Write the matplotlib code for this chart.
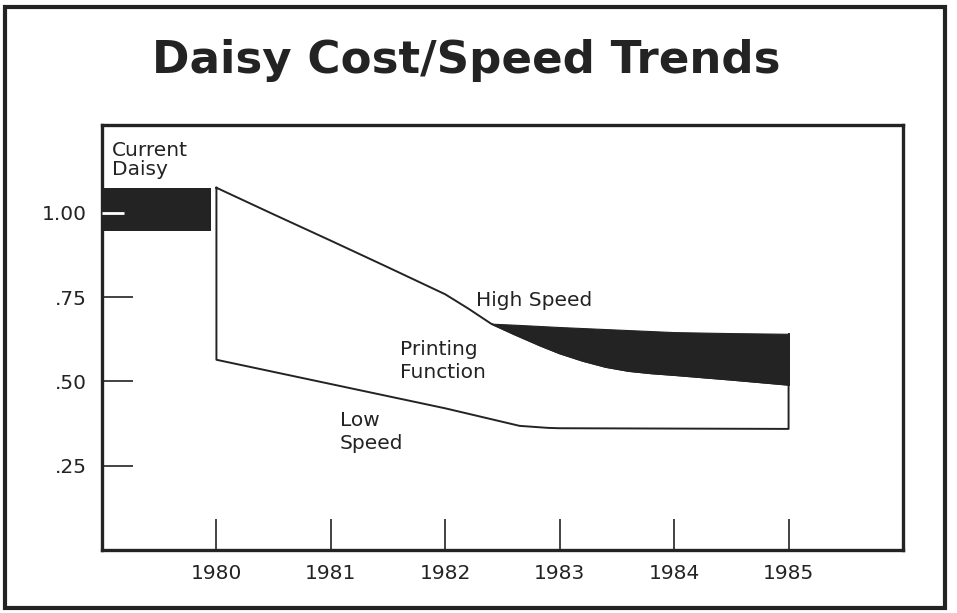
import matplotlib.pyplot as plt
from matplotlib.patches import Rectangle
import numpy as np

plt.rcParams['font.family'] = ['DejaVu Sans']

INK = '#232323'

# Data
years = [1980, 1981, 1982, 1983, 1984, 1985]
ytick_vals = [0.25, 0.50, 0.75, 1.00]
ytick_labels = ['.25', '.50', '.75', '1.00']

current_span = [1979.0, 1979.95]
current_range = [0.947, 1.074]

# upper edge of the printing function (cost falling)
upper_x = [1980.0, 1980.5, 1981.0, 1981.5, 1982.0, 1982.2, 1982.4]
upper_y = [1.074, 0.995, 0.917, 0.838, 0.758, 0.716, 0.671]

# high speed band
high_x = [1982.4, 1982.6, 1982.83, 1983.0, 1983.2, 1983.4, 1983.6,
          1983.8, 1984.0, 1984.5, 1985.0]
high_top = [0.671, 0.668, 0.664, 0.661, 0.658, 0.655, 0.652,
            0.649, 0.646, 0.643, 0.641]
high_bot = [0.671, 0.640, 0.606, 0.583, 0.561, 0.543, 0.531,
            0.524, 0.519, 0.505, 0.490]

# low speed edge
low_x = [1980.0, 1981.0, 1982.0, 1982.4, 1982.65, 1982.9, 1983.0,
         1984.0, 1985.0]
low_y = [0.564, 0.492, 0.420, 0.388, 0.368, 0.362, 0.361, 0.360, 0.359]

fig = plt.figure(figsize=(9.57, 6.13), dpi=100)
fig.patches.append(Rectangle((5 / 957, 5 / 613), 940 / 957, 601 / 613,
                             transform=fig.transFigure, fill=False,
                             edgecolor=INK, linewidth=3))

ax = fig.add_axes([102 / 957, 63 / 613, 801 / 957, 425 / 613])
ax.set_xlim(1979, 1986)
ax.set_ylim(0, 1.26)
ax.set_axisbelow(False)

# current daisy block
ax.fill_between(current_span, current_range[0], current_range[1],
                color=INK, linewidth=0, zorder=2)

# outline of the printing function
outline_x = upper_x + high_x[1:] + [1985.0] + low_x[::-1] + [1980.0]
outline_y = upper_y + high_bot[1:] + [low_y[-1]] + low_y[::-1] + [upper_y[0]]
ax.plot(outline_x, outline_y, color=INK, linewidth=1.4, zorder=3)
ax.plot([1985.0, 1985.0], [high_top[-1], high_bot[-1]], color=INK,
        linewidth=1.4, zorder=3)

# high speed band
ax.fill_between(high_x, high_bot, high_top, color=INK, linewidth=0.8,
                edgecolor=INK, zorder=3)

ax.set_xticks(years)
ax.set_xticklabels([str(y) for y in years])
ax.set_yticks(ytick_vals)
ax.set_yticklabels(ytick_labels)
ax.tick_params(direction='in', length=22, width=1.2, color=INK,
               labelsize=14.5, labelcolor=INK)
ax.tick_params(axis='y', pad=11)
ax.tick_params(axis='x', pad=10)

# the 1.00 tick sits on the black block, so redraw it in white
ax.plot([0, 22 / 801], [ytick_vals[-1], ytick_vals[-1]],
        transform=ax.get_yaxis_transform(), color='white',
        linewidth=2, solid_capstyle='butt', zorder=4)

for s in ax.spines.values():
    s.set_linewidth(2.4)
    s.set_color(INK)

txt = dict(fontsize=14.5, color=INK)
ax.text(1979.09, 1.157, 'Current\nDaisy', ha='left', va='center',
        linespacing=1.0, **txt)
ax.text(1982.27, 0.739, 'High Speed', ha='left', va='center', **txt)
ax.text(1981.6, 0.561, 'Printing\nFunction', ha='left', va='center',
        linespacing=1.25, **txt)
ax.text(1981.08, 0.35, 'Low\nSpeed', ha='left', va='center',
        linespacing=1.25, **txt)

fig.text(0.487, 0.902, 'Daisy Cost/Speed Trends', ha='center', va='center',
         fontsize=32.5, fontweight='bold', color=INK)

fig.savefig('out.png', dpi=100)
